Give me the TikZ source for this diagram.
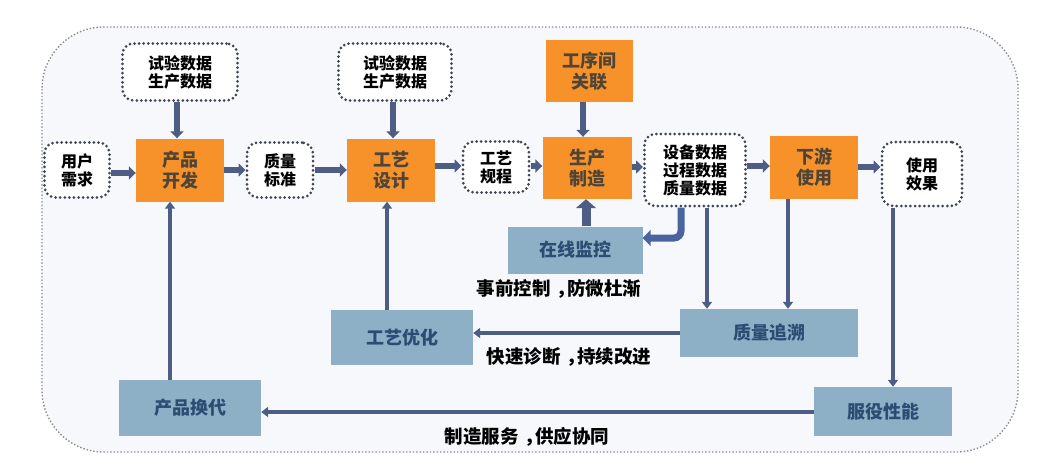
\documentclass[tikz,border=0pt]{standalone}
\usepackage{fontspec}
\setmainfont{Noto Sans CJK SC}
\usetikzlibrary{arrows.meta}
\definecolor{org}{HTML}{F7922A}
\definecolor{orgtxt}{HTML}{4E4438}
\definecolor{bluebox}{HTML}{8DB0C7}
\definecolor{bluetxt}{HTML}{2E4C72}
\definecolor{arrc}{HTML}{4D5D84}
\definecolor{bendc}{HTML}{4A64A0}
\definecolor{dotc}{HTML}{3E4555}
\definecolor{bgc}{HTML}{F6F8FB}
\tikzset{
  dotbox/.style={draw=dotc, line width=3pt, dash pattern=on 0pt off 4.6pt, line cap=round,
    rounded corners=11pt, fill=white, align=center, inner sep=0pt,
    font=\fontsize{16}{18}\selectfont\bfseries, text=black},
  orgbox/.style={fill=org, align=center, inner sep=0pt,
    font=\fontsize{18}{21}\selectfont\bfseries, text=orgtxt},
  bluebx/.style={fill=bluebox, align=center, inner sep=0pt,
    font=\fontsize{18}{21}\selectfont\bfseries, text=bluetxt},
  lbl/.style={font=\fontsize{18.5}{21}\selectfont\bfseries, text=black, inner sep=0pt},
  arr/.style={draw=arrc, line width=6pt, -{Triangle[length=7pt,width=13pt]}},
  thinarr/.style={draw=arrc, line width=4pt, -{Triangle[length=7pt,width=10pt]}},
  bigarr/.style={draw=arrc, line width=9pt, -{Triangle[length=9pt,width=20pt]}},
}
\begin{document}
\begin{tikzpicture}[x=1pt,y=-1pt]
\useasboundingbox (0,0) rectangle (1058,472);
\fill[white] (0,0) rectangle (1058,472);
\draw[draw=gray!90, line width=1.4pt, dotted, fill=bgc, rounded corners=62pt] (42,27) rectangle (1018,452);

% dotted boxes
\node[dotbox, minimum width=65pt, minimum height=55pt] (need) at (77,170) {用户\\需求};
\node[dotbox, minimum width=115pt, minimum height=57pt] (tdA) at (180,72) {试验数据\\生产数据};
\node[dotbox, minimum width=66pt, minimum height=55pt] (qs) at (280,170) {质量\\标准};
\node[dotbox, minimum width=113pt, minimum height=57pt] (tdB) at (395,72) {试验数据\\生产数据};
\node[dotbox, minimum width=66pt, minimum height=51pt] (gc) at (496,167) {工艺\\规程};
\node[dotbox, minimum width=101pt, minimum height=72pt] (eq) at (695,170) {设备数据\\过程数据\\质量数据};
\node[dotbox, minimum width=80pt, minimum height=64pt] (ue) at (922,174) {使用\\效果};

% orange boxes
\node[orgbox, minimum width=88pt, minimum height=63pt] (pd) at (180,170) {产品\\开发};
\node[orgbox, minimum width=88pt, minimum height=63pt] (ds1) at (391,170) {工艺\\设计};
\node[orgbox, minimum width=89pt, minimum height=62pt] (mfg) at (587,168) {生产\\制造};
\node[orgbox, minimum width=87pt, minimum height=62pt] (gx) at (589,71) {工序间\\关联};
\node[orgbox, minimum width=88pt, minimum height=63pt] (ds) at (814,167) {下游\\使用};

% blue boxes
\node[bluebx, minimum width=135pt, minimum height=47pt] (mon) at (575,250) {在线监控};
\node[bluebx, minimum width=142pt, minimum height=55pt] (opt) at (402,337.5) {工艺优化};
\node[bluebx, minimum width=178pt, minimum height=48pt] (qa) at (769,333) {质量追溯};
\node[bluebx, minimum width=142pt, minimum height=56pt] (pr) at (190,408) {产品换代};
\node[bluebx, minimum width=138pt, minimum height=49pt] (sv) at (883,411.5) {服役性能};

% labels
\node[lbl] (l1) at (559,289) {事前控制\kern0.3em，\kern-0.4em防微杜渐};
\node[lbl] (l2) at (569,357) {快速诊断\kern0.3em，\kern-0.4em持续改进};
\node[lbl] (l3) at (527,437) {制造服务\kern0.3em，\kern-0.4em供应协同};

% top row arrows
\draw[arr] (need.east |- 0,173) -- (pd.west |- 0,173);
\draw[arr] (tdA.south -| 177,0) -- (pd.north -| 177,0);
\draw[arr] (pd.east) -- (qs.west);
\draw[arr] (qs.east) -- (ds1.west);
\draw[arr] (tdB.south -| 393,0) -- (ds1.north -| 393,0);
\draw[arr] (ds1.east |- 0,166) -- (gc.west |- 0,166);
\draw[arr] (gc.east |- 0,166) -- (mfg.west |- 0,166);
\draw[arr] (gx.south -| 583,0) -- (mfg.north -| 583,0);
\draw[arr] (mfg.east |- 0,167) -- (eq.west |- 0,167);
\draw[arr] (eq.east |- 0,166) -- (ds.west |- 0,166);
\draw[arr] (ds.east |- 0,167) -- (ue.west |- 0,167);

% monitoring loop
\draw[bigarr] (mon.north -| 586,0) -- (mfg.south -| 586,0);
\draw[draw=bendc, line width=7pt, rounded corners=7pt, -{Triangle[length=8pt,width=16pt]}]
  (eq.south -| 681,0) -- (681,238) -- (mon.east |- 0,238);

% vertical feeds
\draw[thinarr] (eq.south -| 707,0) -- (qa.north -| 707,0);
\draw[thinarr] (ds.south -| 788,0) -- (qa.north -| 788,0);
\draw[thinarr] (ue.south -| 893,0) -- (sv.north -| 893,0);

% feedback
\draw[thinarr] (qa.west |- 0,333) -- (opt.east |- 0,333);
\draw[thinarr] (opt.north -| 387,0) -- (ds1.south -| 387,0);
\draw[thinarr] (pr.north -| 170,0) -- (pd.south -| 170,0);
\draw[thinarr] (sv.west |- 0,412) -- (pr.east |- 0,412);
\end{tikzpicture}
\end{document}
